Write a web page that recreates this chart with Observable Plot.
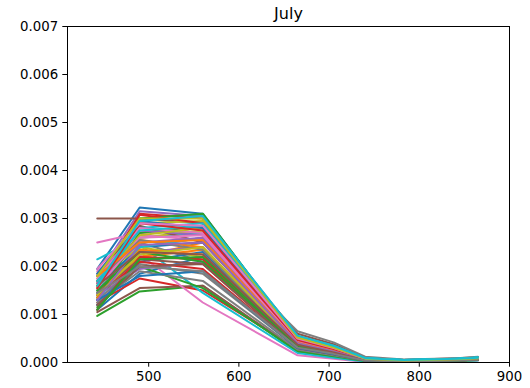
<!DOCTYPE html>
<html>
<head>
<meta charset="utf-8">
<script src="https://cdn.jsdelivr.net/npm/d3@7"></script>
<script src="https://cdn.jsdelivr.net/npm/@observablehq/plot@0.6"></script>
<style>
  html, body { margin: 0; padding: 0; background: white; }
</style>
</head>
<body>
<div id="chart"></div>
<script>
const title = "July";
const bands = [443, 490, 560, 665, 705, 740, 783, 842, 865];
const xTicks = [500, 600, 700, 800, 900];
const yTicks = [0, 0.001, 0.002, 0.003, 0.004, 0.005, 0.006, 0.007];
const tab10 = ["#1f77b4", "#ff7f0e", "#2ca02c", "#d62728", "#9467bd", "#8c564b", "#e377c2", "#7f7f7f", "#bcbd22", "#17becf"];

const series = [
  [19.5e-4, 32.3e-4, 31.0e-4, 5.0e-4, 3.0e-4, 0.8e-4, 0.4e-4, 0.7e-4, 0.9e-4],
  [16.0e-4, 27.0e-4, 28.0e-4, 4.5e-4, 2.6e-4, 0.6e-4, 0.3e-4, 0.6e-4, 0.8e-4],
  [9.7e-4, 14.8e-4, 16.0e-4, 2.2e-4, 1.2e-4, 0.3e-4, 0.2e-4, 0.4e-4, 0.5e-4],
  [13.0e-4, 31.0e-4, 30.0e-4, 4.6e-4, 2.8e-4, 0.7e-4, 0.4e-4, 0.7e-4, 0.9e-4],
  [18.0e-4, 31.5e-4, 30.5e-4, 5.5e-4, 3.5e-4, 0.9e-4, 0.5e-4, 0.8e-4, 1.0e-4],
  [30.0e-4, 30.0e-4, 29.0e-4, 6.0e-4, 3.8e-4, 1.0e-4, 0.5e-4, 0.9e-4, 1.1e-4],
  [25.0e-4, 27.0e-4, 28.0e-4, 5.2e-4, 3.2e-4, 0.8e-4, 0.4e-4, 0.7e-4, 0.9e-4],
  [15.0e-4, 24.0e-4, 26.0e-4, 6.5e-4, 4.2e-4, 1.2e-4, 0.6e-4, 0.9e-4, 1.2e-4],
  [17.0e-4, 29.0e-4, 29.5e-4, 5.0e-4, 3.0e-4, 0.8e-4, 0.4e-4, 0.7e-4, 0.9e-4],
  [21.5e-4, 26.0e-4, 27.0e-4, 5.5e-4, 3.5e-4, 0.9e-4, 0.5e-4, 0.8e-4, 1.1e-4],
  [11.0e-4, 18.5e-4, 22.0e-4, 3.2e-4, 1.8e-4, 0.4e-4, 0.3e-4, 0.5e-4, 0.6e-4],
  [14.0e-4, 22.0e-4, 25.0e-4, 4.2e-4, 2.4e-4, 0.6e-4, 0.3e-4, 0.6e-4, 0.7e-4],
  [12.0e-4, 30.0e-4, 31.0e-4, 5.0e-4, 3.0e-4, 0.8e-4, 0.4e-4, 0.7e-4, 0.9e-4],
  [12.5e-4, 17.5e-4, 15.0e-4, 2.8e-4, 1.5e-4, 0.4e-4, 0.2e-4, 0.4e-4, 0.5e-4],
  [13.5e-4, 23.0e-4, 24.0e-4, 3.8e-4, 2.2e-4, 0.5e-4, 0.3e-4, 0.5e-4, 0.7e-4],
  [10.5e-4, 15.5e-4, 16.0e-4, 2.5e-4, 1.4e-4, 0.3e-4, 0.2e-4, 0.4e-4, 0.5e-4],
  [12.0e-4, 22.5e-4, 12.5e-4, 1.5e-4, 0.8e-4, 0.1e-4, 0.1e-4, 0.3e-4, 0.4e-4],
  [16.5e-4, 25.0e-4, 21.0e-4, 3.5e-4, 2.0e-4, 0.5e-4, 0.3e-4, 0.5e-4, 0.6e-4],
  [15.5e-4, 26.0e-4, 27.5e-4, 4.6e-4, 2.7e-4, 0.7e-4, 0.4e-4, 0.6e-4, 0.8e-4],
  [14.5e-4, 24.5e-4, 14.5e-4, 2.0e-4, 1.0e-4, 0.2e-4, 0.1e-4, 0.3e-4, 0.4e-4],
  [16.0e-4, 24.0e-4, 25.0e-4, 4.0e-4, 2.3e-4, 0.6e-4, 0.3e-4, 0.5e-4, 0.7e-4],
  [15.0e-4, 22.0e-4, 23.5e-4, 3.6e-4, 2.0e-4, 0.5e-4, 0.3e-4, 0.5e-4, 0.6e-4],
  [11.5e-4, 20.0e-4, 15.5e-4, 2.4e-4, 1.3e-4, 0.3e-4, 0.2e-4, 0.3e-4, 0.5e-4],
  [17.0e-4, 30.8e-4, 29.0e-4, 4.8e-4, 2.9e-4, 0.7e-4, 0.4e-4, 0.7e-4, 0.9e-4],
  [14.0e-4, 19.5e-4, 21.0e-4, 3.3e-4, 1.9e-4, 0.5e-4, 0.3e-4, 0.5e-4, 0.6e-4],
  [18.5e-4, 28.5e-4, 25.0e-4, 4.3e-4, 2.5e-4, 0.6e-4, 0.3e-4, 0.6e-4, 0.8e-4],
  [19.0e-4, 26.5e-4, 25.5e-4, 4.4e-4, 2.6e-4, 0.6e-4, 0.3e-4, 0.6e-4, 0.8e-4],
  [13.0e-4, 20.5e-4, 18.5e-4, 3.0e-4, 1.7e-4, 0.4e-4, 0.2e-4, 0.4e-4, 0.6e-4],
  [17.5e-4, 24.0e-4, 22.0e-4, 3.7e-4, 2.1e-4, 0.5e-4, 0.3e-4, 0.5e-4, 0.7e-4],
  [15.0e-4, 28.0e-4, 29.0e-4, 5.3e-4, 3.3e-4, 0.9e-4, 0.5e-4, 0.8e-4, 1.0e-4],
  [12.0e-4, 21.0e-4, 23.0e-4, 3.5e-4, 2.0e-4, 0.5e-4, 0.3e-4, 0.5e-4, 0.6e-4],
  [16.5e-4, 25.5e-4, 24.0e-4, 4.0e-4, 2.3e-4, 0.6e-4, 0.3e-4, 0.6e-4, 0.7e-4],
  [13.5e-4, 27.0e-4, 28.5e-4, 4.7e-4, 2.8e-4, 0.7e-4, 0.4e-4, 0.6e-4, 0.8e-4],
  [11.0e-4, 22.0e-4, 21.5e-4, 3.3e-4, 1.9e-4, 0.5e-4, 0.2e-4, 0.4e-4, 0.6e-4],
  [18.0e-4, 27.5e-4, 26.5e-4, 4.5e-4, 2.6e-4, 0.7e-4, 0.4e-4, 0.6e-4, 0.8e-4],
  [14.5e-4, 21.5e-4, 20.5e-4, 3.1e-4, 1.8e-4, 0.4e-4, 0.2e-4, 0.4e-4, 0.6e-4],
  [17.5e-4, 28.0e-4, 27.0e-4, 4.6e-4, 2.7e-4, 0.7e-4, 0.4e-4, 0.6e-4, 0.8e-4],
  [12.5e-4, 19.0e-4, 17.0e-4, 2.7e-4, 1.5e-4, 0.4e-4, 0.2e-4, 0.4e-4, 0.5e-4],
  [16.0e-4, 26.5e-4, 28.0e-4, 4.8e-4, 2.8e-4, 0.7e-4, 0.4e-4, 0.6e-4, 0.8e-4],
  [13.0e-4, 24.0e-4, 26.0e-4, 4.5e-4, 2.6e-4, 0.7e-4, 0.4e-4, 0.6e-4, 0.8e-4],
  [18.5e-4, 29.5e-4, 28.0e-4, 4.9e-4, 2.9e-4, 0.8e-4, 0.4e-4, 0.7e-4, 0.9e-4],
  [13.5e-4, 23.5e-4, 22.5e-4, 3.6e-4, 2.1e-4, 0.5e-4, 0.3e-4, 0.5e-4, 0.7e-4],
  [15.0e-4, 23.0e-4, 21.0e-4, 3.4e-4, 1.9e-4, 0.5e-4, 0.3e-4, 0.5e-4, 0.6e-4],
  [14.0e-4, 21.0e-4, 19.5e-4, 3.0e-4, 1.7e-4, 0.4e-4, 0.2e-4, 0.4e-4, 0.6e-4],
  [16.5e-4, 25.0e-4, 26.0e-4, 4.3e-4, 2.5e-4, 0.6e-4, 0.3e-4, 0.6e-4, 0.7e-4],
  [12.0e-4, 20.0e-4, 20.5e-4, 3.2e-4, 1.8e-4, 0.4e-4, 0.2e-4, 0.4e-4, 0.6e-4],
  [15.5e-4, 26.0e-4, 26.5e-4, 4.4e-4, 2.5e-4, 0.6e-4, 0.3e-4, 0.6e-4, 0.8e-4],
  [17.0e-4, 25.5e-4, 23.5e-4, 3.8e-4, 2.2e-4, 0.5e-4, 0.3e-4, 0.5e-4, 0.7e-4],
  [14.0e-4, 22.5e-4, 24.0e-4, 3.9e-4, 2.3e-4, 0.6e-4, 0.3e-4, 0.5e-4, 0.7e-4],
  [17.0e-4, 27.5e-4, 28.5e-4, 5.4e-4, 3.4e-4, 0.9e-4, 0.5e-4, 0.8e-4, 1.0e-4],
  [13.0e-4, 18.0e-4, 19.0e-4, 3.0e-4, 1.7e-4, 0.4e-4, 0.2e-4, 0.4e-4, 0.6e-4],
  [18.0e-4, 25.0e-4, 25.5e-4, 4.1e-4, 2.4e-4, 0.6e-4, 0.3e-4, 0.6e-4, 0.7e-4],
  [11.0e-4, 21.5e-4, 22.0e-4, 3.4e-4, 1.9e-4, 0.5e-4, 0.2e-4, 0.4e-4, 0.6e-4],
  [15.5e-4, 29.0e-4, 27.5e-4, 4.7e-4, 2.8e-4, 0.7e-4, 0.4e-4, 0.6e-4, 0.8e-4],
  [13.0e-4, 24.5e-4, 25.0e-4, 4.0e-4, 2.3e-4, 0.6e-4, 0.3e-4, 0.5e-4, 0.7e-4],
  [16.0e-4, 23.0e-4, 22.5e-4, 3.7e-4, 2.1e-4, 0.5e-4, 0.3e-4, 0.5e-4, 0.7e-4],
  [19.5e-4, 29.0e-4, 28.5e-4, 5.0e-4, 3.0e-4, 0.8e-4, 0.4e-4, 0.7e-4, 0.9e-4],
  [14.5e-4, 20.0e-4, 19.0e-4, 3.1e-4, 1.8e-4, 0.4e-4, 0.2e-4, 0.4e-4, 0.6e-4],
  [18.0e-4, 30.0e-4, 30.0e-4, 5.2e-4, 3.1e-4, 0.8e-4, 0.4e-4, 0.7e-4, 0.9e-4],
  [16.0e-4, 29.5e-4, 30.5e-4, 5.6e-4, 3.5e-4, 0.9e-4, 0.5e-4, 0.8e-4, 1.0e-4]
];

const lineMarks = series.map((s, i) =>
  Plot.line(s, {x: bands, y: d => d, stroke: tab10[i % 10], strokeWidth: 2})
);

const chart = Plot.plot({
  width: 530,
  height: 388,
  marginLeft: 67,
  marginRight: 21,
  marginTop: 26,
  marginBottom: 26,
  style: {fontFamily: "DejaVu Sans", fontSize: "13.3px", color: "black", background: "white", overflow: "visible"},
  x: {domain: [410, 900], ticks: xTicks, tickSize: 4.7, tickPadding: 4, label: null},
  y: {domain: [0, 0.007], ticks: yTicks, tickFormat: d3.format(".3f"), tickSize: 4.7, tickPadding: 4.7, label: null},
  marks: [
    ...lineMarks,
    Plot.frame({stroke: "black", strokeWidth: 1}),
    Plot.text([title], {frameAnchor: "top", lineAnchor: "middle", text: d => d, dy: -13, fontSize: 16, fill: "black"})
  ]
});
document.getElementById("chart").appendChild(chart);
</script>
</body>
</html>
